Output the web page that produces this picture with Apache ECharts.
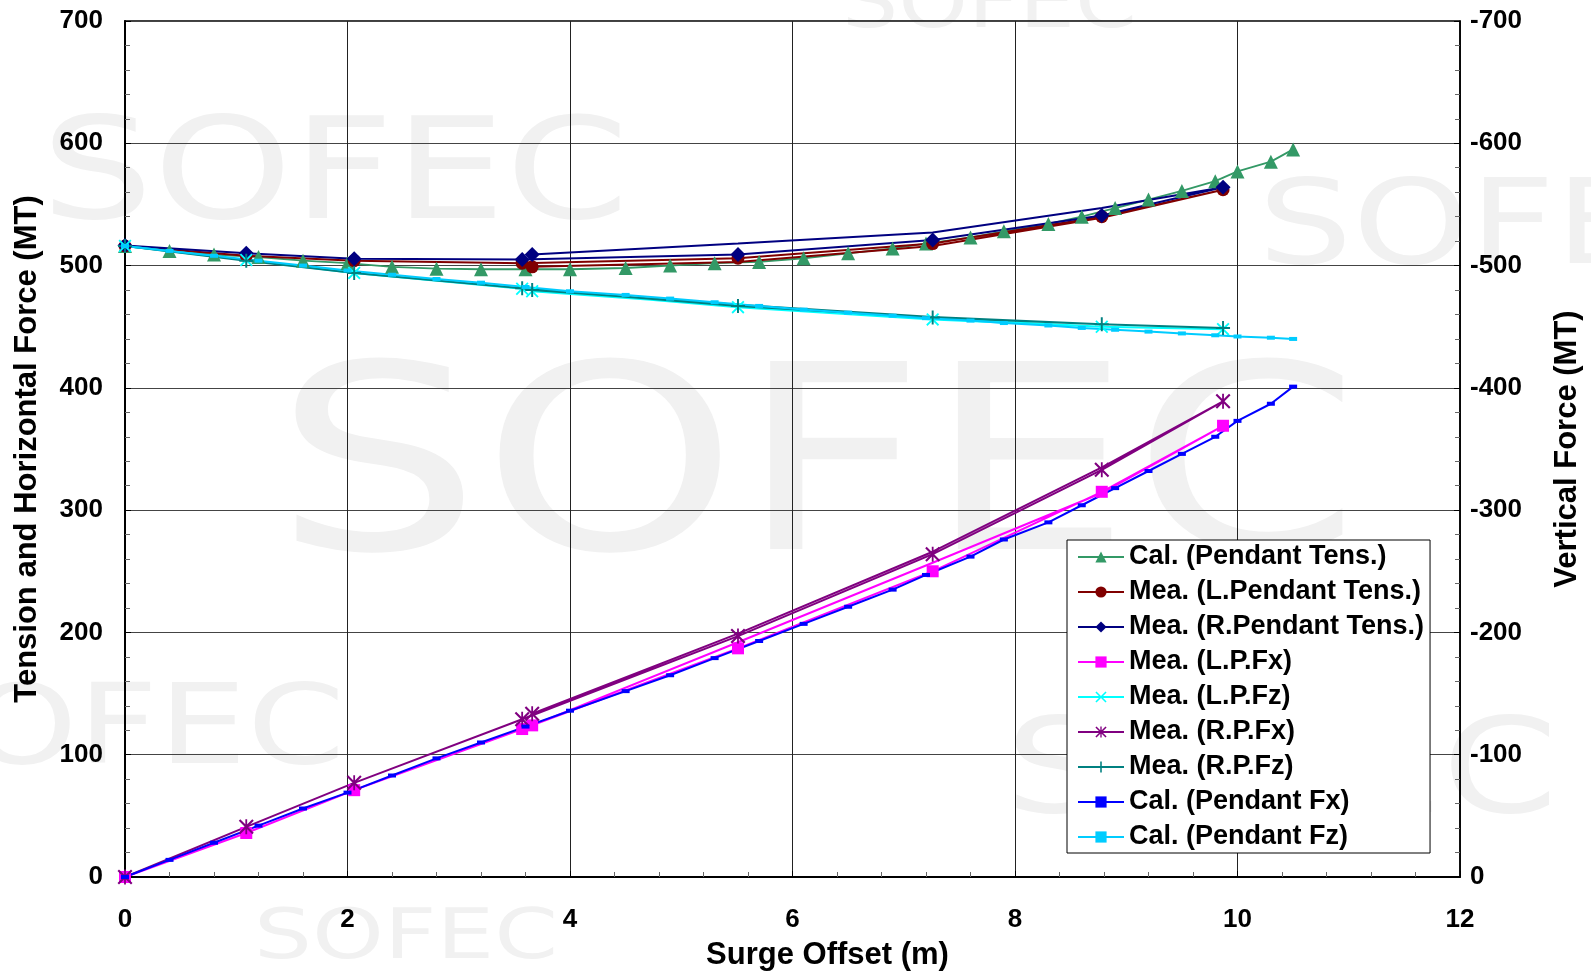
<!DOCTYPE html>
<html>
<head>
<meta charset="utf-8">
<script src="https://cdn.jsdelivr.net/npm/echarts@6/dist/echarts.min.js"></script>
<style>
  html, body { margin: 0; padding: 0; background: #fff; }
  #chart { width: 1591px; height: 972px; }
</style>
</head>
<body>
<div id="chart"></div>
<script>
// calculated curves (surge offset, m)
const calX = [0, 0.4, 0.8, 1.2, 1.6, 2.0, 2.4, 2.8, 3.2, 3.6, 4.0, 4.5, 4.9, 5.3, 5.7, 6.1, 6.5, 6.9, 7.2, 7.6, 7.9, 8.3, 8.6, 8.9, 9.2, 9.5, 9.8, 10.0, 10.3, 10.5];
const calTens = [516, 512, 509, 507, 504, 502, 499, 497.5, 497, 497, 497, 498, 500, 502, 503, 506, 510, 514, 518, 523, 528, 534, 540, 547, 554, 561, 569, 577, 585, 595];
const calFx = [0, 14, 28, 42, 56, 69, 83, 97, 110, 123, 136, 152, 165, 179, 193, 207, 221, 235, 247, 262, 276, 290, 304, 318, 332, 346, 360, 373, 387, 401];
const calFz = [-516, -512, -508, -504, -500, -496, -492.5, -489, -486, -482.5, -479, -476, -473, -470, -467, -464, -461.5, -459, -457, -455, -453, -451, -449, -447.5, -446, -444.5, -443, -442, -441, -440];

// measured: loading out to max offset, then back
const meaX = [0, 1.09, 2.06, 3.57, 5.51, 7.26, 8.78, 9.87, 8.78, 7.26, 5.51, 3.66];
const returnFrom = 8; // index where unloading starts
const meaLTens = [516, 508, 504, 502, 506, 518, 540, 562, 539, 516, 503, 499];
const meaRTens = [516.5, 510, 505.5, 505, 509, 521, 541, 564, 547, 527, 518, 509];
const meaLFx = [0, 36, 71, 121, 187, 250, 315, 369, 314, 257, 192, 124];
const meaLFz = [-516, -504.5, -494, -481, -466, -456, -450, -448, -450, -457, -467, -479];
const meaRFx = [0, 41, 77, 129, 197, 264, 333, 389, 335, 266, 199, 133.5];
const meaRFz = [-516, -504, -494, -481.5, -467, -457.5, -452, -449, -452, -458, -468, -480];

const leftTicks = [0, 700, 100];
const xTicks = [0, 12, 2];

function calData(ys) {
  return calX.map((x, i) => [x, ys[i]]);
}
function meaData(ys) {
  return meaX.map((x, i) => {
    const item = { value: [x, ys[i]] };
    if (i >= returnFrom && i < meaX.length - 1) item.symbol = 'none';
    return item;
  });
}

const xMark = 'path://M0,1L1,0L5,4L9,0L10,1L6,5L10,9L9,10L5,6L1,10L0,9L4,5Z';
const plusMark = 'path://M4.3,0H5.7V4.3H10V5.7H5.7V10H4.3V5.7H0V4.3H4.3Z';
const starMark = 'path://M0,1L1,0L5,4L9,0L10,1L6,5L10,9L9,10L5,6L1,10L0,9L4,5Z M4.4,0H5.6V10H4.4Z';

function line(name, data, color, symbol, size, width, yIdx) {
  return {
    name: name,
    type: 'line',
    yAxisIndex: yIdx || 0,
    data: data,
    symbol: symbol,
    symbolSize: size,
    showAllSymbol: true,
    lineStyle: { color: color, width: width },
    itemStyle: { color: color },
    emphasis: { disabled: true },
    animation: false,
    z: 3
  };
}

const font = 'Liberation Sans, Arial, sans-serif';
// faint background logo text, stretched to the width seen in the picture
function wm(x, y, size, width) {
  return {
    type: 'text', x: x, y: y, z: -10, silent: true,
    scaleX: width / (3.327 * size),
    style: { text: 'SOFEC', fill: '#f1f1f1', font: size + 'px DejaVu Sans', verticalAlign: 'top' }
  };
}

const chart = echarts.init(document.getElementById('chart'));
const option = {
  backgroundColor: '#fff',
  animation: false,
  graphic: [
    wm(842, -30, 75, 295),
    wm(41, 112, 140, 588),
    wm(1258, 173, 118, 495),
    wm(274, 353, 258, 1086),
    wm(-122, 679, 111, 467),
    wm(1005, 712, 132, 553),
    wm(254, 905, 70, 304)
  ],
  grid: {
    left: 125, right: 131, top: 21, bottom: 95,
    outerBoundsMode: 'none',
    show: true, borderColor: '#000', borderWidth: 1.5, backgroundColor: 'transparent'
  },
  legend: {
    orient: 'vertical',
    left: 1067, top: 540,
    padding: [3, 6, 2, 10],
    itemWidth: 46, itemHeight: 14, itemGap: 7,
    backgroundColor: '#fff',
    borderColor: '#000', borderWidth: 1,
    textStyle: { fontFamily: font, fontWeight: 'bold', fontSize: 27, color: '#000', lineHeight: 28 },
    z: 10
  },
  xAxis: {
    type: 'value',
    min: xTicks[0], max: xTicks[1], interval: xTicks[2],
    name: 'Surge Offset (m)', nameLocation: 'middle', nameGap: 63,
    nameTextStyle: { fontFamily: font, fontWeight: 'bold', fontSize: 31, color: '#000', padding: [0, 0, 0, 70] },
    axisLine: { show: true, lineStyle: { color: '#000', width: 2 } },
    axisTick: { show: true, inside: true, length: 6, lineStyle: { color: '#000' } },
    minorTick: { show: true, splitNumber: 5, length: 5, lineStyle: { color: '#666' } },
    axisLabel: { fontFamily: font, fontWeight: 'bold', fontSize: 26, color: '#000', margin: 30 },
    splitLine: { show: true, lineStyle: { color: '#222', width: 1 } }
  },
  yAxis: [
    {
      type: 'value',
      min: leftTicks[0], max: leftTicks[1], interval: leftTicks[2],
      name: 'Tension and Horizontal Force (MT)', nameLocation: 'middle', nameGap: 82,
      nameTextStyle: { fontFamily: font, fontWeight: 'bold', fontSize: 31, color: '#000' },
      axisLine: { show: true, lineStyle: { color: '#000', width: 2 } },
      axisTick: { show: true, inside: true, length: 6, lineStyle: { color: '#000' } },
      minorTick: { show: true, splitNumber: 5, length: 5, lineStyle: { color: '#666' } },
      axisLabel: { fontFamily: font, fontWeight: 'bold', fontSize: 26, color: '#000', margin: 22 },
      splitLine: { show: true, lineStyle: { color: '#444', width: 1.2 } }
    },
    {
      type: 'value',
      min: -leftTicks[1], max: leftTicks[0], interval: leftTicks[2],
      inverse: true,
      position: 'right',
      name: 'Vertical Force (MT)', nameLocation: 'middle', nameGap: 92,
      nameRotate: 90,
      nameTextStyle: { fontFamily: font, fontWeight: 'bold', fontSize: 31, color: '#000' },
      axisLine: { show: true, lineStyle: { color: '#000', width: 1.5 } },
      axisTick: { show: true, inside: true, length: 6, lineStyle: { color: '#000' } },
      minorTick: { show: true, splitNumber: 5, length: 5, lineStyle: { color: '#666' } },
      axisLabel: { fontFamily: font, fontWeight: 'bold', fontSize: 26, color: '#000', margin: 10 },
      splitLine: { show: false }
    }
  ],
  series: [
    line('Cal. (Pendant Tens.)', calData(calTens), '#339966', 'triangle', 14, 1.8),
    line('Mea. (L.Pendant Tens.)', meaData(meaLTens), '#800000', 'circle', 13, 2),
    line('Mea. (R.Pendant Tens.)', meaData(meaRTens), '#000080', 'diamond', 15, 2),
    line('Mea. (L.P.Fx)', meaData(meaLFx), '#FF00FF', 'rect', 12, 2),
    line('Mea. (L.P.Fz)', meaData(meaLFz), '#00FFFF', xMark, 13, 2, 1),
    line('Mea. (R.P.Fx)', meaData(meaRFx), '#800080', starMark, 15, 2),
    line('Mea. (R.P.Fz)', meaData(meaRFz), '#008080', plusMark, 14, 2, 1),
    line('Cal. (Pendant Fx)', calData(calFx), '#0000FF', 'rect', [8, 4], 2),
    line('Cal. (Pendant Fz)', calData(calFz), '#00CCFF', 'rect', [8, 4], 2, 1)
  ]
};
chart.setOption(option);
</script>
</body>
</html>
